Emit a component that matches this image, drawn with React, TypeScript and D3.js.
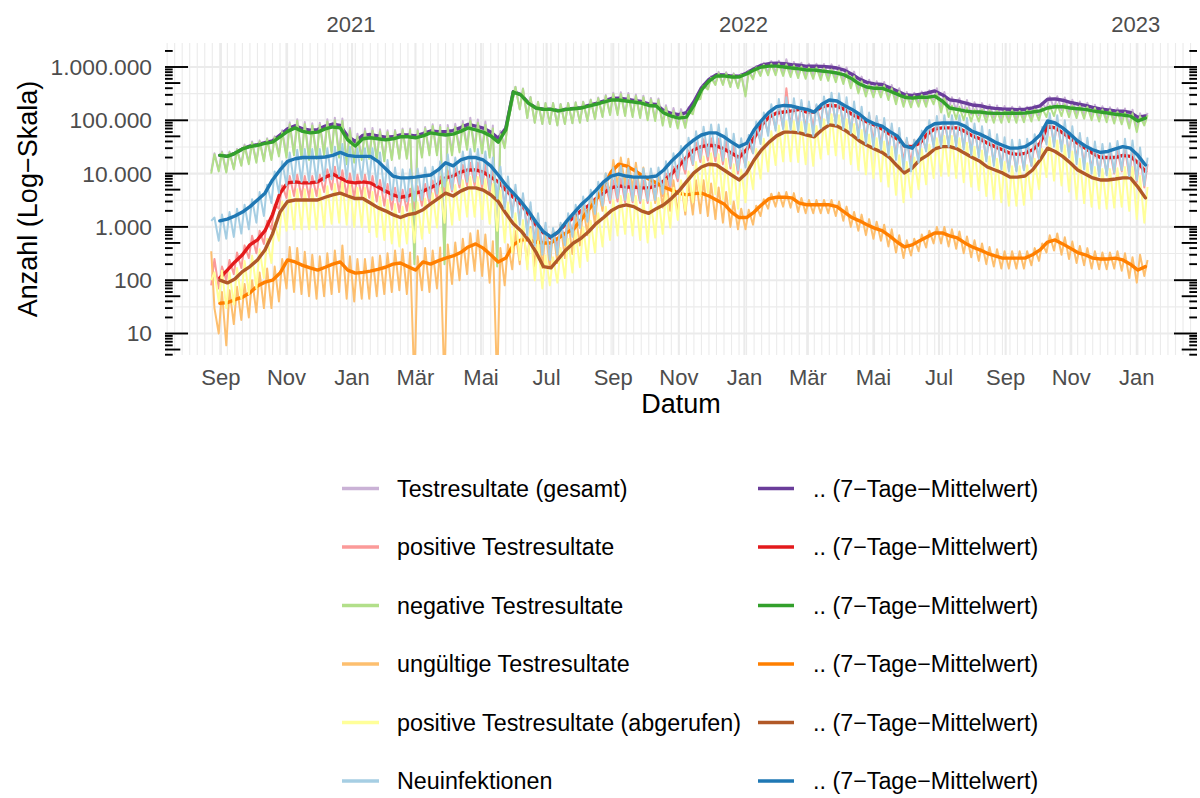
import React, { useEffect, useRef } from 'react';
import * as d3 from 'd3';

// weekly grid of the data (Mondays), raw values: lo = Sunday before, hi = Wednesday
const weekStarts = d3.utcMonday.range(new Date(Date.UTC(2020, 7, 24)), new Date(Date.UTC(2023, 0, 10)));

const monthNames = ['Jan', 'Feb', 'Mär', 'Apr', 'Mai', 'Jun', 'Jul', 'Aug', 'Sep', 'Okt', 'Nov', 'Dez'];
const yBreaks = [10, 100, 1000, 10000, 100000, 1000000];

// Testresultate (gesamt)
const totalAvg = [null, 22000, 21000, 24000, 29000, 33000, 35000, 38000, 41000, 53000, 69000,
  79000, 69000, 65000, 67000, 78000, 85000, 80000, 50000, 40000, 52000,
  54000, 51000, 48000, 49000, 53000, 53000, 51000, 56000, 63000, 61000,
  61000, 64000, 73000, 84000, 78000, 71000, 60000, 46000, 71000, 344000,
  303000, 212000, 171000, 161000, 161000, 151000, 161000, 167000, 172000, 190000,
  207000, 230000, 256000, 261000, 250000, 237000, 225000, 203000, 198000, 150000,
  135000, 128000, 139000, 222000, 406000, 583000, 716000, 712000, 676000, 672000,
  770000, 929000, 1085000, 1160000, 1180000, 1150000, 1110000, 1080000, 1030000, 1030000,
  1020000, 1000000, 957000, 872000, 732000, 591000, 514000, 483000, 470000, 410000,
  355000, 303000, 292000, 307000, 325000, 355000, 302000, 242000, 232000, 212000,
  194000, 188000, 174000, 167000, 163000, 161000, 158000, 161000, 171000, 187000,
  248000, 252000, 238000, 217000, 202000, 190000, 174000, 163000, 157000, 150000,
  148000, 141000, 113000, 121000];
const totalHi = [24000, 26000, 26000, 29000, 35000, 40000, 42000, 46000, 50000, 65000, 92000,
  105000, 93000, 88000, 90000, 105000, 112000, 108000, 72000, 56000, 70000,
  72000, 68000, 65000, 66000, 70000, 70000, 68000, 75000, 84000, 82000,
  82000, 86000, 97000, 112000, 104000, 95000, 80000, 63000, 96000, 425000,
  395000, 275000, 222000, 212000, 212000, 202000, 212000, 218000, 224000, 246000,
  268000, 298000, 330000, 335000, 325000, 305000, 290000, 262000, 256000, 192000,
  170000, 162000, 175000, 280000, 480000, 670000, 810000, 800000, 760000, 750000,
  860000, 1040000, 1200000, 1290000, 1310000, 1400000, 1240000, 1200000, 1150000, 1150000,
  1140000, 1120000, 1070000, 980000, 820000, 660000, 575000, 540000, 525000, 460000,
  400000, 340000, 330000, 345000, 365000, 400000, 340000, 270000, 260000, 240000,
  218000, 210000, 195000, 190000, 185000, 180000, 180000, 180000, 192000, 210000,
  278000, 282000, 267000, 243000, 226000, 213000, 195000, 183000, 176000, 168000,
  166000, 158000, 135000, 138000];
const totalLo = [11000, 11500, 11000, 12500, 14500, 16000, 17000, 18000, 19000, 23000, 22000,
  24000, 21000, 20000, 21000, 24000, 26000, 22000, 17000, 17500, 20000,
  21000, 20000, 18500, 19000, 20000, 20000, 250, 22000, 24000, 24000,
  250, 25000, 28000, 32000, 30000, 27000, 22000, 220, 32000, 222000,
  162000, 112000, 91000, 86000, 86000, 81000, 86000, 89000, 92000, 99000,
  108000, 120000, 132000, 135000, 130000, 123000, 117000, 107000, 104000, 86000,
  82000, 78000, 83000, 145000, 270000, 400000, 480000, 480000, 440000, 420000,
  300000, 620000, 730000, 770000, 790000, 770000, 740000, 720000, 690000, 690000,
  680000, 670000, 640000, 580000, 490000, 390000, 340000, 320000, 310000, 270000,
  235000, 200000, 195000, 205000, 215000, 245000, 180000, 160000, 155000, 140000,
  128000, 124000, 115000, 112000, 109000, 106000, 106000, 106000, 113000, 124000,
  164000, 167000, 157000, 143000, 133000, 126000, 115000, 108000, 104000, 99000,
  98000, 80000, 70000, 90000];

// positive Testresultate
const positiveAvg = [null, 110, 155, 220, 300, 460, 570, 850, 1700, 4300, 6700,
  7000, 6700, 6700, 7000, 8600, 9800, 8300, 7000, 6700, 7000,
  6700, 5600, 4700, 4000, 3600, 3800, 4300, 4700, 5400, 6400,
  8300, 9000, 10700, 11700, 11700, 10700, 8600, 7000, 4900, 3600,
  2700, 1750, 1090, 770, 620, 810, 1150, 1500, 2000, 2500,
  3400, 4300, 5400, 5900, 5600, 5600, 5400, 5400, 5900, 7300,
  9800, 14000, 20000, 28000, 32000, 34000, 33000, 29000, 24000, 20000,
  28000, 47000, 82000, 115000, 137000, 143000, 150000, 160000, 143000, 143000,
  180000, 190000, 185000, 160000, 130000, 110000, 93000, 82000, 69000, 55000,
  45000, 33000, 32000, 37000, 55000, 69000, 72000, 72000, 72000, 62000,
  51000, 45000, 37000, 32000, 28000, 24000, 23000, 24000, 28000, 37000,
  78000, 72000, 58000, 47000, 37000, 30000, 24000, 20000, 20000, 20000,
  22000, 21000, 16000, 11000];
const positiveHi = [250, 180, 240, 330, 450, 680, 850, 1300, 2600, 6000, 9000,
  9500, 9000, 9000, 9500, 12000, 13500, 11500, 10000, 9500, 9500,
  9000, 7600, 6400, 5400, 5000, 5200, 5800, 6400, 7400, 8800,
  11500, 12500, 14500, 16000, 16000, 14500, 11800, 9500, 6700, 4900,
  3700, 2400, 1500, 1050, 850, 1100, 1600, 2000, 2700, 3400,
  4600, 5900, 7400, 8000, 7600, 7600, 7400, 7400, 8000, 10000,
  13500, 19000, 27000, 38000, 44000, 46000, 45000, 40000, 33000, 27000,
  38000, 64000, 110000, 150000, 180000, 400000, 200000, 210000, 190000, 190000,
  240000, 250000, 245000, 210000, 170000, 145000, 125000, 110000, 92000, 74000,
  60000, 44000, 43000, 50000, 74000, 92000, 96000, 96000, 96000, 83000,
  68000, 60000, 50000, 43000, 37000, 32000, 31000, 32000, 37000, 50000,
  105000, 96000, 78000, 63000, 50000, 40000, 32000, 27000, 27000, 27000,
  29000, 28000, 22000, 15000];
const positiveLo = [80, 70, 100, 130, 170, 260, 320, 480, 900, 2200, 3500,
  3800, 3600, 3600, 3800, 4500, 5000, 4400, 3800, 3500, 3700,
  3500, 3000, 2500, 2100, 1900, 2000, 2200, 2500, 2800, 3300,
  4300, 4600, 5500, 6000, 6000, 5500, 4400, 3600, 2500, 1800,
  1400, 900, 560, 400, 320, 420, 600, 780, 1050, 1300,
  1750, 2200, 2800, 3000, 2900, 2900, 2800, 2800, 3000, 3800,
  5000, 7200, 10000, 14500, 16500, 17500, 17000, 15000, 12500, 10000,
  14000, 24000, 42000, 58000, 70000, 72000, 76000, 80000, 72000, 72000,
  90000, 95000, 93000, 80000, 65000, 55000, 47000, 41000, 35000, 28000,
  23000, 17000, 16000, 19000, 28000, 35000, 36000, 36000, 36000, 31000,
  26000, 23000, 19000, 16000, 14000, 12000, 11500, 12000, 14000, 19000,
  39000, 36000, 29000, 24000, 19000, 15000, 12000, 10000, 10000, 10000,
  11000, 9000, 7000, 5500];

// negative Testresultate
const negativeAvg = [null, 22000, 21000, 24000, 29000, 32000, 34000, 37000, 39000, 49000, 62000,
  72000, 62000, 58000, 60000, 69000, 75000, 72000, 43000, 33000, 45000,
  47000, 45000, 43000, 45000, 49000, 49000, 47000, 51000, 58000, 55000,
  53000, 55000, 62000, 72000, 66000, 60000, 51000, 39000, 66000, 340000,
  300000, 210000, 170000, 160000, 160000, 150000, 160000, 165000, 170000, 185000,
  200000, 220000, 240000, 240000, 230000, 220000, 210000, 190000, 185000, 137000,
  120000, 110000, 115000, 190000, 370000, 545000, 680000, 680000, 650000, 650000,
  740000, 880000, 1000000, 1040000, 1040000, 1000000, 960000, 920000, 880000, 880000,
  840000, 810000, 770000, 710000, 600000, 480000, 420000, 400000, 400000, 355000,
  310000, 270000, 260000, 270000, 270000, 285000, 230000, 170000, 160000, 150000,
  143000, 143000, 137000, 135000, 135000, 137000, 135000, 137000, 143000, 150000,
  170000, 180000, 180000, 170000, 165000, 160000, 150000, 143000, 137000, 130000,
  126000, 120000, 97000, 110000];
const negativeHi = [23000, 25000, 25000, 28000, 33000, 38000, 40000, 44000, 48000, 60000, 84000,
  98000, 85000, 80000, 82000, 95000, 100000, 98000, 65000, 50000, 62000,
  64000, 62000, 60000, 62000, 66000, 66000, 64000, 70000, 78000, 75000,
  72000, 75000, 84000, 97000, 90000, 82000, 70000, 55000, 90000, 420000,
  390000, 270000, 220000, 210000, 210000, 200000, 210000, 215000, 220000, 240000,
  260000, 285000, 310000, 310000, 300000, 285000, 270000, 245000, 240000, 175000,
  150000, 140000, 145000, 240000, 440000, 620000, 760000, 760000, 730000, 720000,
  820000, 980000, 1100000, 1150000, 1150000, 1120000, 1070000, 1020000, 980000, 980000,
  940000, 900000, 860000, 790000, 670000, 540000, 470000, 450000, 450000, 400000,
  350000, 300000, 290000, 300000, 300000, 320000, 260000, 190000, 180000, 170000,
  160000, 160000, 155000, 150000, 150000, 155000, 150000, 155000, 160000, 170000,
  190000, 200000, 200000, 190000, 185000, 180000, 170000, 160000, 155000, 145000,
  140000, 135000, 120000, 125000];
const negativeLo = [10000, 11000, 10500, 12000, 14000, 15000, 16000, 17000, 18000, 21000, 20000,
  22000, 19000, 18000, 19000, 22000, 24000, 20000, 15000, 16000, 18000,
  19000, 18000, 17000, 18000, 19000, 19000, 200, 20000, 22000, 22000,
  200, 22000, 25000, 28000, 26000, 24000, 20000, 180, 30000, 220000,
  160000, 110000, 90000, 85000, 85000, 80000, 85000, 88000, 90000, 97000,
  105000, 115000, 125000, 125000, 120000, 115000, 110000, 100000, 97000, 80000,
  75000, 70000, 72000, 130000, 250000, 380000, 460000, 460000, 420000, 400000,
  280000, 590000, 680000, 700000, 700000, 680000, 650000, 620000, 600000, 600000,
  570000, 550000, 520000, 480000, 400000, 320000, 280000, 270000, 270000, 240000,
  200000, 180000, 175000, 180000, 180000, 200000, 140000, 115000, 105000, 100000,
  95000, 95000, 92000, 90000, 90000, 92000, 90000, 92000, 95000, 100000,
  115000, 120000, 120000, 115000, 110000, 107000, 100000, 95000, 92000, 87000,
  84000, 70000, 60000, 80000];

// ungültige Testresultate
const invalidAvg = [null, 37, 38, 43, 48, 58, 78, 92, 100, 136, 240,
  220, 190, 170, 155, 175, 200, 220, 155, 136, 140,
  148, 160, 175, 200, 210, 180, 155, 220, 200, 230,
  260, 285, 330, 420, 480, 400, 300, 220, 260, 460,
  570, 570, 520, 500, 500, 620, 770, 910, 1350, 2100,
  3200, 5800, 10700, 15000, 14000, 11700, 9400, 7900, 6700, 5600,
  4900, 4300, 4000, 4200, 4300, 3800, 3200, 2700, 1900, 1500,
  1500, 1900, 2600, 3400, 3600, 3600, 3500, 2800, 2600, 2600,
  2600, 2600, 2400, 1900, 1500, 1300, 1100, 950, 850, 680,
  520, 420, 460, 550, 650, 770, 770, 680, 620, 500,
  420, 370, 320, 285, 260, 260, 260, 260, 300, 370,
  520, 570, 480, 400, 330, 300, 260, 250, 250, 260,
  240, 200, 155, 180];
const invalidHi = [30, 60, 65, 75, 85, 100, 140, 165, 180, 250, 420,
  400, 340, 300, 280, 320, 360, 450, 280, 250, 250,
  270, 290, 320, 360, 380, 330, 280, 400, 360, 410,
  470, 510, 600, 760, 860, 720, 540, 400, 470, 830,
  1000, 1000, 940, 900, 900, 1100, 1400, 1600, 2400, 3800,
  5800, 10000, 18000, 20000, 19000, 16000, 13000, 11000, 9500, 8000,
  7500, 7000, 7000, 7500, 7500, 6500, 5500, 4500, 3000, 2200,
  2100, 2500, 3300, 4200, 4400, 4500, 4300, 3500, 3200, 3200,
  3200, 3200, 3000, 2400, 1900, 1700, 1400, 1250, 1100, 900,
  700, 560, 600, 720, 850, 1000, 1000, 900, 820, 660,
  560, 490, 420, 380, 350, 350, 350, 350, 400, 490,
  700, 750, 640, 530, 440, 400, 350, 330, 330, 350,
  320, 270, 300, 240];
const invalidLo = [350, 10, 6, 15, 18, 20, 25, 30, 30, 40, 70,
  60, 55, 50, 45, 50, 55, 60, 45, 40, 45,
  45, 50, 55, 60, 65, 55, 1, 65, 60, 70,
  1, 85, 100, 130, 150, 120, 90, 1, 80, 160,
  200, 200, 180, 170, 170, 210, 260, 310, 450, 700,
  1100, 2000, 4000, 6000, 6000, 5000, 4000, 3300, 2800, 2300,
  2000, 1800, 1700, 1700, 1800, 1600, 1400, 1200, 1000, 900,
  900, 1100, 1600, 2200, 2400, 2400, 2300, 1900, 1800, 1800,
  1800, 1800, 1600, 1300, 1000, 850, 700, 600, 550, 430,
  330, 260, 290, 350, 410, 490, 490, 430, 390, 320,
  270, 230, 200, 180, 165, 165, 165, 165, 190, 230,
  330, 360, 300, 250, 210, 190, 165, 160, 160, 165,
  150, 110, 90, 120];

// positive Testresultate (abgerufen)
const fetchedAvg = [null, 100, 89, 105, 145, 180, 240, 370, 740, 1900, 3000,
  3200, 3200, 3200, 3200, 3600, 4000, 4300, 3800, 3400, 3400,
  2800, 2300, 2000, 1700, 1500, 1700, 1800, 2100, 2700, 3400,
  4300, 3800, 4700, 5400, 5400, 4900, 4000, 3000, 1800, 1150,
  850, 570, 340, 180, 170, 250, 370, 500, 610, 810,
  1150, 1500, 2000, 2400, 2600, 2400, 2000, 1800, 2200, 2600,
  3400, 4700, 7000, 10300, 13300, 15000, 14500, 11700, 9400, 7600,
  10300, 18000, 28000, 39000, 51000, 60000, 60000, 58000, 53000, 49000,
  66000, 82000, 78000, 66000, 53000, 41000, 34000, 29000, 25000, 20000,
  14000, 10300, 12700, 18000, 22000, 29000, 32000, 32000, 29000, 24000,
  20000, 17000, 13300, 11700, 10300, 8600, 8600, 9000, 11700, 18000,
  30000, 26000, 21000, 16000, 11700, 9800, 8300, 7600, 7600, 7900,
  8300, 8300, 5600, 3500];
const fetchedHi = [140, 150, 140, 170, 230, 290, 380, 600, 1200, 3000, 4800,
  5100, 5100, 5100, 5100, 5800, 6400, 6900, 6100, 5400, 5400,
  4500, 3700, 3200, 2700, 2400, 2700, 2900, 3400, 4300, 5400,
  6900, 6100, 7500, 8600, 8600, 7800, 6400, 4800, 2900, 1800,
  1350, 900, 540, 290, 270, 400, 590, 800, 980, 1300,
  1800, 2400, 3200, 3800, 4200, 3800, 3200, 2900, 3500, 4200,
  5400, 7500, 11000, 16500, 21000, 24000, 23000, 19000, 15000, 12000,
  16500, 29000, 45000, 62000, 80000, 96000, 96000, 93000, 85000, 78000,
  105000, 130000, 125000, 105000, 85000, 66000, 54000, 46000, 40000, 32000,
  22000, 16500, 20000, 29000, 35000, 46000, 51000, 51000, 46000, 38000,
  32000, 27000, 21000, 19000, 16500, 13800, 13800, 14400, 19000, 29000,
  48000, 42000, 34000, 26000, 19000, 15700, 13300, 12200, 12200, 12600,
  13300, 13300, 9000, 5600];
const fetchedLo = [100, 40, 30, 35, 45, 55, 70, 110, 210, 550, 850,
  900, 900, 900, 900, 1000, 1150, 1200, 1100, 1000, 1000,
  800, 650, 570, 490, 430, 490, 510, 600, 770, 970,
  1200, 1100, 1350, 1550, 1550, 1400, 1150, 850, 510, 330,
  240, 160, 100, 70, 80, 90, 110, 140, 175, 230,
  330, 430, 570, 690, 740, 690, 570, 510, 630, 740,
  970, 1350, 2000, 2900, 3800, 4300, 4100, 3300, 2700, 2200,
  2900, 5100, 8000, 11000, 14500, 17000, 17000, 16500, 15000, 14000,
  19000, 23000, 22000, 19000, 15000, 11700, 9700, 8300, 7100, 5700,
  4000, 2900, 3600, 5100, 6300, 8300, 9100, 9100, 8300, 6900,
  5700, 4900, 3800, 3300, 2900, 2500, 2500, 2600, 3300, 5100,
  8600, 7400, 6000, 4600, 3300, 2800, 2400, 2200, 2200, 2300,
  2400, 2000, 1400, 1200];

// Neuinfektionen
const newCasesAvg = [null, 1300, 1400, 1600, 1900, 2400, 3200, 4300, 7600, 11700, 17000,
  19000, 20000, 20000, 20000, 20500, 22000, 25000, 22000, 21000, 21000,
  21000, 17000, 12500, 9000, 8300, 8300, 8600, 9000, 9400, 11700,
  16000, 14000, 18000, 20000, 20000, 18000, 14000, 9400, 6100, 4300,
  3000, 2000, 1240, 810, 650, 810, 1240, 1800, 2600, 3500,
  4900, 7000, 9000, 9800, 9000, 8600, 8600, 8600, 9000, 11700,
  17000, 23000, 33000, 43000, 53000, 58000, 58000, 49000, 39000, 32000,
  37000, 66000, 100000, 143000, 180000, 190000, 185000, 170000, 160000, 143000,
  200000, 240000, 230000, 190000, 160000, 130000, 100000, 86000, 78000, 62000,
  51000, 33000, 30000, 45000, 72000, 86000, 89000, 89000, 89000, 78000,
  62000, 55000, 47000, 39000, 34000, 30000, 30000, 32000, 39000, 53000,
  97000, 89000, 72000, 55000, 41000, 33000, 28000, 25000, 26000, 29000,
  32000, 30000, 22000, 14500];
const newCasesHi = [1500, 1700, 1900, 2200, 2600, 3300, 4500, 6200, 11000, 17000, 25000,
  28000, 29000, 29000, 29000, 30000, 32000, 36000, 32000, 30000, 30000,
  30000, 25000, 18000, 13000, 12000, 12000, 12500, 13000, 13500, 17000,
  23000, 20000, 26000, 29000, 29000, 26000, 20000, 13500, 8800, 6200,
  4300, 2900, 1800, 1200, 950, 1200, 1800, 2600, 3700, 5000,
  7000, 10000, 13000, 14000, 13000, 12500, 12500, 12500, 13000, 17000,
  24000, 33000, 47000, 62000, 76000, 83000, 83000, 70000, 56000, 46000,
  53000, 95000, 140000, 200000, 250000, 270000, 260000, 240000, 225000, 200000,
  280000, 330000, 320000, 270000, 225000, 180000, 140000, 120000, 110000, 87000,
  72000, 47000, 43000, 64000, 100000, 120000, 125000, 125000, 125000, 110000,
  87000, 77000, 66000, 55000, 48000, 43000, 43000, 45000, 55000, 75000,
  135000, 125000, 100000, 77000, 58000, 47000, 40000, 36000, 37000, 41000,
  45000, 42000, 31000, 20000];
const newCasesLo = [1300, 550, 600, 650, 750, 900, 1200, 1600, 2800, 4300, 6000,
  6800, 7000, 7000, 7000, 7300, 7800, 9000, 7800, 7500, 7500,
  7500, 6000, 4400, 3200, 3000, 3000, 3100, 3200, 3400, 4200,
  5700, 5000, 6400, 7000, 7000, 6400, 5000, 3400, 2200, 1500,
  1100, 700, 450, 300, 240, 300, 450, 650, 950, 1250,
  1750, 2500, 3200, 3500, 3200, 3100, 3100, 3100, 3200, 4200,
  6000, 8200, 12000, 15000, 19000, 21000, 21000, 17500, 14000, 11500,
  13000, 24000, 36000, 51000, 64000, 68000, 66000, 61000, 57000, 51000,
  71000, 86000, 82000, 68000, 57000, 46000, 36000, 31000, 28000, 22000,
  18000, 12000, 11000, 16000, 26000, 31000, 32000, 32000, 32000, 28000,
  22000, 20000, 17000, 14000, 12000, 11000, 11000, 11500, 14000, 19000,
  35000, 32000, 26000, 20000, 15000, 12000, 10000, 9000, 9300, 10400,
  11500, 9000, 7500, 6000];

const series = [
  { label: 'Testresultate (gesamt)', light: '#CAB2D6', dark: '#6A3D9A', hi: totalHi, lo: totalLo, avg: totalAvg },
  { label: 'positive Testresultate', light: '#FB9A99', dark: '#E31A1C', hi: positiveHi, lo: positiveLo, avg: positiveAvg },
  { label: 'negative Testresultate', light: '#B2DF8A', dark: '#33A02C', hi: negativeHi, lo: negativeLo, avg: negativeAvg },
  { label: 'ungültige Testresultate', light: '#FDBF6F', dark: '#FF7F00', hi: invalidHi, lo: invalidLo, avg: invalidAvg },
  { label: 'positive Testresultate (abgerufen)', light: '#FFFF99', dark: '#B15928', hi: fetchedHi, lo: fetchedLo, avg: fetchedAvg },
  { label: 'Neuinfektionen', light: '#A6CEE3', dark: '#1F78B4', hi: newCasesHi, lo: newCasesLo, avg: newCasesAvg },
];
const avgLabel = '.. (7\u2212Tage\u2212Mittelwert)';

const FONT = '"Liberation Sans", Arial, Helvetica, sans-serif';

export default function App() {
  const ref = useRef<SVGSVGElement>(null);

  useEffect(() => {
    const svg = d3.select(ref.current);
    svg.selectAll('*').remove();

    const panel = { left: 165, right: 1197, top: 43, bottom: 355 };

    const x = d3.scaleUtc()
      .domain([new Date(Date.UTC(2020, 6, 11)), new Date(Date.UTC(2023, 1, 26))])
      .range([panel.left, panel.right]);
    const y = d3.scaleLog()
      .domain([3.95, 2.82e6])
      .range([panel.bottom, panel.top]);

    const de = d3.formatLocale({ decimal: ',', thousands: '.', grouping: [3], currency: ['', '€'] });
    const fmt = de.format(',');

    // grid
    const grid = svg.append('g');
    const mondays = d3.utcMonday.range(x.domain()[0], x.domain()[1]);
    grid.selectAll('.vminor').data(mondays).enter().append('line')
      .attr('x1', (d) => x(d)).attr('x2', (d) => x(d))
      .attr('y1', panel.top).attr('y2', panel.bottom)
      .attr('stroke', '#EBEBEB').attr('stroke-width', 1.1);
    const yMinor = [0, 1, 2, 3, 4, 5].map((k) => Math.pow(10, k + 0.5)).filter((v) => v > 3.95 && v < 2.82e6);
    grid.selectAll('.hminor').data(yMinor).enter().append('line')
      .attr('x1', panel.left).attr('x2', panel.right)
      .attr('y1', (d) => y(d)).attr('y2', (d) => y(d))
      .attr('stroke', '#EBEBEB').attr('stroke-width', 1.1);
    const monthTicks = x.ticks(d3.utcMonth.every(2));
    grid.selectAll('.vmajor').data(monthTicks).enter().append('line')
      .attr('x1', (d) => x(d)).attr('x2', (d) => x(d))
      .attr('y1', panel.top).attr('y2', panel.bottom)
      .attr('stroke', '#EBEBEB').attr('stroke-width', 2.1);
    grid.selectAll('.hmajor').data(yBreaks).enter().append('line')
      .attr('x1', panel.left).attr('x2', panel.right)
      .attr('y1', (d) => y(d)).attr('y2', (d) => y(d))
      .attr('stroke', '#EBEBEB').attr('stroke-width', 2.1);

    // clip
    svg.append('defs').append('clipPath').attr('id', 'panel-clip')
      .append('rect')
      .attr('x', panel.left).attr('y', panel.top)
      .attr('width', panel.right - panel.left).attr('height', panel.bottom - panel.top);

    const plot = svg.append('g').attr('clip-path', 'url(#panel-clip)');
    const DAY = 86400000;

    const line = d3.line<[Date, number | null]>()
      .defined((d) => d[1] != null && d[1] > 0)
      .x((d) => x(d[0]))
      .y((d) => y(d[1] as number));

    series.forEach((s) => {
      const raw: [Date, number | null][] = [];
      weekStarts.forEach((w, i) => {
        raw.push([new Date(w.getTime() - DAY), s.lo[i]]);
        raw.push([new Date(w.getTime() + 2 * DAY), s.hi[i]]);
      });
      plot.append('path')
        .attr('d', line(raw))
        .attr('fill', 'none')
        .attr('stroke', s.light)
        .attr('stroke-width', 2)
        .attr('stroke-linejoin', 'round');

      const avg: [Date, number | null][] = weekStarts.map((w, i) => [w, s.avg[i]]);
      plot.append('path')
        .attr('d', line(avg))
        .attr('fill', 'none')
        .attr('stroke', s.dark)
        .attr('stroke-width', 3.4)
        .attr('stroke-linejoin', 'round')
        .attr('stroke-linecap', 'round');
    });

    // log ticks on both sides
    const logTicks: { v: number; len: number }[] = [];
    for (let k = 0; k <= 6; k++) {
      for (let m = 1; m <= 9; m++) {
        const v = m * Math.pow(10, k);
        if (v < 3.95 || v > 2.82e6) continue;
        logTicks.push({ v, len: m === 1 ? 23 : m === 5 ? 15.3 : 7.7 });
      }
    }
    const ticks = svg.append('g');
    ticks.selectAll('.lt').data(logTicks).enter().append('line')
      .attr('x1', panel.left).attr('x2', (d) => panel.left + d.len)
      .attr('y1', (d) => y(d.v)).attr('y2', (d) => y(d.v))
      .attr('stroke', '#000').attr('stroke-width', 1.9);
    ticks.selectAll('.rt').data(logTicks).enter().append('line')
      .attr('x1', panel.right).attr('x2', (d) => panel.right - d.len)
      .attr('y1', (d) => y(d.v)).attr('y2', (d) => y(d.v))
      .attr('stroke', '#000').attr('stroke-width', 1.9);

    // axis labels
    const axes = svg.append('g').attr('font-family', FONT);
    axes.selectAll('.xl').data(monthTicks).enter().append('text')
      .attr('x', (d) => x(d)).attr('y', 385)
      .attr('text-anchor', 'middle').attr('font-size', 22).attr('fill', '#4D4D4D')
      .text((d) => monthNames[d.getUTCMonth()]);
    axes.selectAll('.yr').data(x.ticks(d3.utcYear.every(1))).enter().append('text')
      .attr('x', (d) => x(d) - 1).attr('y', 31.5)
      .attr('text-anchor', 'middle').attr('font-size', 22).attr('fill', '#4D4D4D')
      .text((d) => String(d.getUTCFullYear()));
    axes.selectAll('.yl').data(yBreaks).enter().append('text')
      .attr('x', 152).attr('y', (d) => y(d) + 8)
      .attr('text-anchor', 'end').attr('font-size', 22.8).attr('fill', '#4D4D4D')
      .text((d) => fmt(d));
    axes.append('text')
      .attr('x', (panel.left + panel.right) / 2).attr('y', 413)
      .attr('text-anchor', 'middle').attr('font-size', 27).attr('fill', '#000')
      .text('Datum');
    axes.append('text')
      .attr('transform', `translate(37,${(panel.top + panel.bottom) / 2}) rotate(-90)`)
      .attr('text-anchor', 'middle').attr('font-size', 27).attr('fill', '#000')
      .text('Anzahl (Log\u2212Skala)');

    // legend
    const legend = svg.append('g').attr('font-family', FONT);
    series.forEach((s, i) => {
      const cy = 488.5 + 58.5 * i;
      legend.append('line').attr('x1', 342).attr('x2', 379).attr('y1', cy).attr('y2', cy)
        .attr('stroke', s.light).attr('stroke-width', 3.3);
      legend.append('text').attr('x', 397).attr('y', cy + 8)
        .attr('font-size', 23.3).attr('fill', '#000').text(s.label);
      legend.append('line').attr('x1', 758).attr('x2', 794).attr('y1', cy).attr('y2', cy)
        .attr('stroke', s.dark).attr('stroke-width', 3.3);
      legend.append('text').attr('x', 813).attr('y', cy + 8)
        .attr('font-size', 23.3).attr('fill', '#000').text(avgLabel);
    });
  }, []);

  return (
    <svg
      ref={ref}
      width={1200}
      height={798}
      style={{ position: 'absolute', left: 0, top: 0, background: '#fff' }}
    />
  );
}
